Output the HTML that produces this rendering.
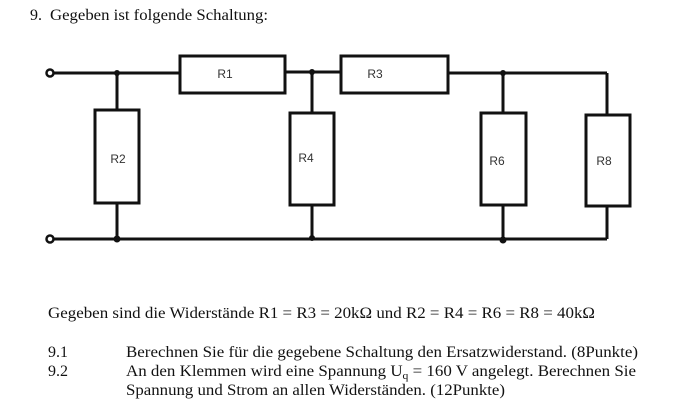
<!DOCTYPE html>
<html><head><style>html,body{margin:0;padding:0;background:#fff;width:680px;height:408px;overflow:hidden}</style></head>
<body>
<svg width="680" height="408" xmlns="http://www.w3.org/2000/svg" font-family="Liberation Serif, serif" font-size="16" fill="#111">
<text x="30" y="20">9.</text>
<text x="50" y="20" textLength="218" lengthAdjust="spacingAndGlyphs">Gegeben ist folgende Schaltung:</text>
<g stroke="#111" stroke-width="3" fill="none">
<line x1="54" y1="73" x2="180" y2="73"/>
<line x1="285" y1="72" x2="341" y2="72"/>
<line x1="448" y1="73" x2="607" y2="73"/>
<line x1="54" y1="239" x2="607" y2="239"/>
<line x1="117" y1="73" x2="117" y2="110"/><line x1="117" y1="203" x2="117" y2="239"/>
<line x1="312" y1="72" x2="312" y2="113"/><line x1="312" y1="205" x2="312" y2="239"/>
<line x1="503" y1="73" x2="503" y2="113"/><line x1="503" y1="205" x2="503" y2="239"/>
<line x1="607" y1="73" x2="607" y2="115"/><line x1="607" y1="206" x2="607" y2="239"/>
<rect x="180" y="56" width="105" height="37"/>
<rect x="341" y="56" width="107" height="37"/>
<rect x="95" y="110" width="44" height="93"/>
<rect x="290" y="113" width="44" height="92"/>
<rect x="481" y="113" width="45" height="92"/>
<rect x="586" y="115" width="44" height="91"/>
<circle cx="50" cy="73" r="3.5" stroke-width="2.5"/>
<circle cx="50" cy="239" r="3.5" stroke-width="2.5"/>
</g>
<g fill="#111"><circle cx="117" cy="73" r="3"/><circle cx="312" cy="72" r="3"/><circle cx="503" cy="73" r="3"/><circle cx="117" cy="239" r="3.5"/><circle cx="312" cy="238" r="3"/><circle cx="503" cy="240" r="3.5"/></g>
<g font-family="Liberation Sans, sans-serif" font-size="12" fill="#333" text-anchor="middle">
<text x="225" y="78">R1</text><text x="375" y="78">R3</text>
<text x="118" y="163">R2</text><text x="306" y="162">R4</text>
<text x="497" y="165">R6</text><text x="604" y="165">R8</text>
</g>
<text x="48" y="318" textLength="547" lengthAdjust="spacingAndGlyphs">Gegeben sind die Widerstände R1 = R3 = 20kΩ und R2 = R4 = R6 = R8 = 40kΩ</text>
<text x="48" y="357">9.1</text>
<text x="126" y="357" textLength="512" lengthAdjust="spacingAndGlyphs">Berechnen Sie für die gegebene Schaltung den Ersatzwiderstand. (8Punkte)</text>
<text x="48" y="376">9.2</text>
<text x="126" y="376" textLength="510" lengthAdjust="spacingAndGlyphs">An den Klemmen wird eine Spannung U<tspan font-size="11" dy="3">q</tspan><tspan dy="-3"> = 160 V angelegt. Berechnen Sie</tspan></text>
<text x="126" y="395" textLength="379" lengthAdjust="spacingAndGlyphs">Spannung und Strom an allen Widerständen. (12Punkte)</text>
</svg>
</body></html>
